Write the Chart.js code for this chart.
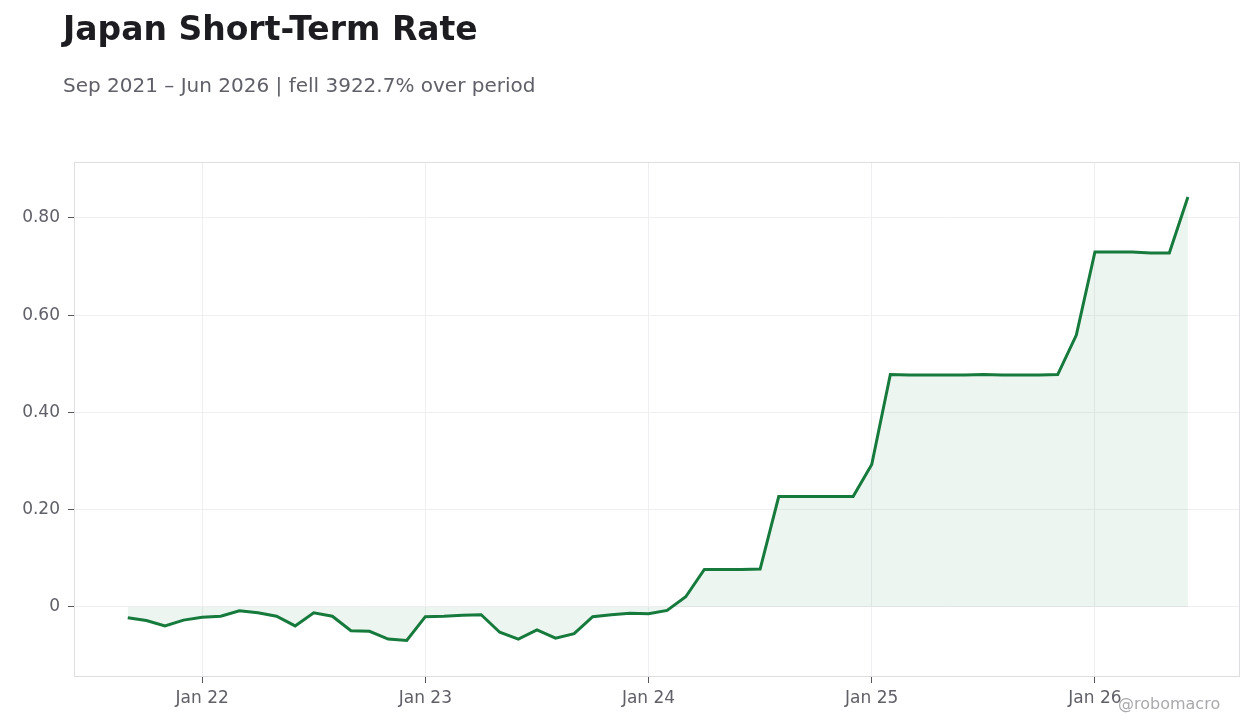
<!DOCTYPE html>
<html>
<head>
<meta charset="utf-8">
<script src="https://cdn.jsdelivr.net/npm/chart.js@4.4.0/dist/chart.umd.min.js"></script>
<style>
  html, body { margin: 0; padding: 0; background: #fff; }
  body { width: 1260px; height: 728px; position: relative; overflow: hidden; font-family: "DejaVu Sans", sans-serif; }
  #title { position: absolute; left: 63px; top: 9px; font-size: 33px; font-weight: bold; color: #1c1c21; }
  #subtitle { position: absolute; left: 63px; top: 73px; font-size: 20px; color: #5f6068; }
  #mark { position: absolute; left: 1118px; top: 694px; font-size: 16px; color: #aaaaae; }
  #wrap { position: absolute; left: 0; top: 0; width: 1260px; height: 728px; }
</style>
</head>
<body>
<div id="wrap"><canvas id="myChart" width="1260" height="728"></canvas></div>
<div id="title">Japan Short-Term Rate</div>
<div id="subtitle">Sep 2021 – Jun 2026 | fell 3922.7% over period</div>
<div id="mark">@robomacro</div>
<script>
// monthly, Sep 2021 .. Jun 2026
const months = [
  "Sep 21","Oct 21","Nov 21","Dec 21",
  "Jan 22","Feb 22","Mar 22","Apr 22","May 22","Jun 22","Jul 22","Aug 22","Sep 22","Oct 22","Nov 22","Dec 22",
  "Jan 23","Feb 23","Mar 23","Apr 23","May 23","Jun 23","Jul 23","Aug 23","Sep 23","Oct 23","Nov 23","Dec 23",
  "Jan 24","Feb 24","Mar 24","Apr 24","May 24","Jun 24","Jul 24","Aug 24","Sep 24","Oct 24","Nov 24","Dec 24",
  "Jan 25","Feb 25","Mar 25","Apr 25","May 25","Jun 25","Jul 25","Aug 25","Sep 25","Oct 25","Nov 25","Dec 25",
  "Jan 26","Feb 26","Mar 26","Apr 26","May 26","Jun 26"
]
const rate = [
  -0.022, -0.028, -0.039, -0.027,
  -0.021, -0.019, -0.008, -0.012, -0.019, -0.039, -0.012, -0.019, -0.049, -0.050, -0.066, -0.069,
  -0.020, -0.019, -0.017, -0.016, -0.052, -0.066, -0.047, -0.064, -0.055, -0.020, -0.016, -0.013,
  -0.014, -0.007, 0.021, 0.077, 0.077, 0.077, 0.078, 0.227, 0.227, 0.227, 0.227, 0.227,
  0.293, 0.478, 0.477, 0.477, 0.477, 0.477, 0.478, 0.477, 0.477, 0.477, 0.478, 0.559,
  0.730, 0.730, 0.730, 0.728, 0.728, 0.843
]
const yTicks = [0, 0.2, 0.4, 0.6, 0.8]

const points = rate.map((v, i) => ({ x: i, y: v }))
const janIdx = months.map((m, i) => m.startsWith("Jan") ? i : -1).filter(i => i >= 0)

const frame = {
  id: 'frame',
  afterDraw(chart) {
    const a = chart.chartArea
    const ctx = chart.ctx
    ctx.save()
    ctx.strokeStyle = '#dedee2'
    ctx.lineWidth = 1
    ctx.strokeRect(a.left + 0.5, a.top + 0.5, a.right - a.left - 1, a.bottom - a.top - 1)
    ctx.restore()
  }
}

let ctx = document.getElementById('myChart').getContext('2d')
let chart = new Chart(ctx, {
  type: 'line',
  data: {
    datasets: [{
      data: points,
      borderColor: '#167a3c',
      backgroundColor: 'rgba(22,122,60,0.08)',
      borderWidth: 3,
      pointRadius: 0,
      tension: 0,
      fill: 'origin'
    }]
  },
  options: {
    responsive: false,
    animation: false,
    layout: { padding: { top: 162, right: 20, left: 0, bottom: 0 } },
    plugins: { legend: { display: false }, tooltip: { enabled: false } },
    scales: {
      x: {
        type: 'linear',
        min: -2.89,
        max: 59.8,
        afterBuildTicks: s => { s.ticks = janIdx.map(v => ({ value: v })) },
        afterFit: s => { s.height = 51 },
        ticks: {
          callback: v => months[v],
          color: '#5f6068',
          font: { family: 'DejaVu Sans', size: 17 },
          padding: 5,
          maxRotation: 0
        },
        grid: { color: '#efeff1', tickColor: '#55565c', tickLength: 6 },
        border: { display: false }
      },
      y: {
        min: -0.144,
        max: 0.915,
        afterBuildTicks: s => { s.ticks = yTicks.map(v => ({ value: v })) },
        afterFit: s => { s.width = 74 },
        ticks: {
          callback: v => v === 0 ? '0' : v.toFixed(2),
          color: '#5f6068',
          font: { family: 'DejaVu Sans', size: 17 },
          padding: 8
        },
        grid: { color: '#efeff1', tickColor: '#55565c', tickLength: 6 },
        border: { display: false }
      }
    }
  },
  plugins: [frame]
})
</script>
</body>
</html>
